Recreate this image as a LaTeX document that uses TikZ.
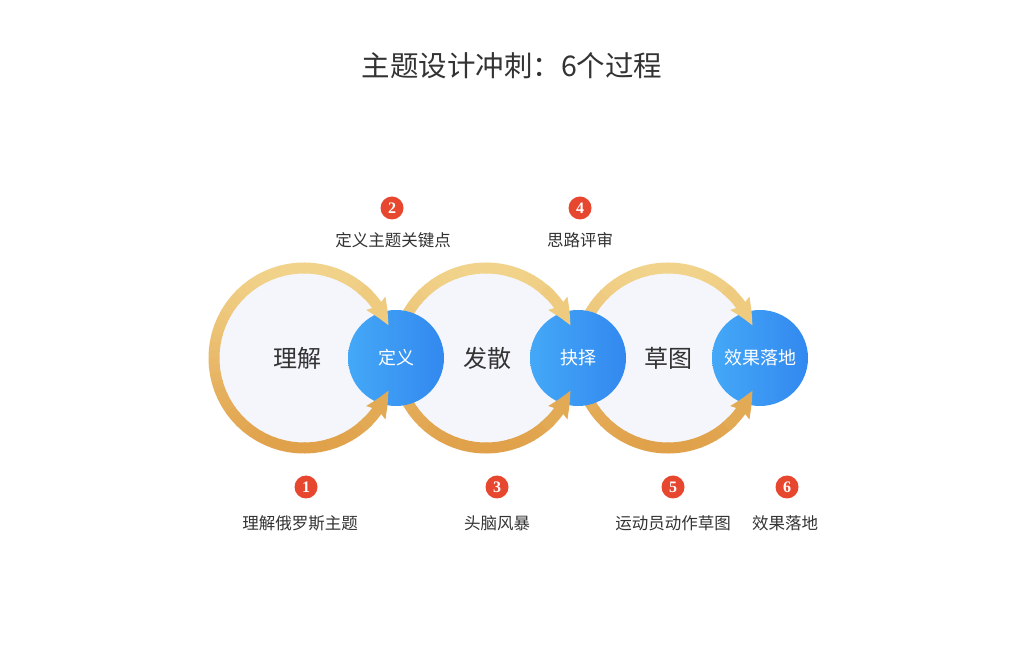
\documentclass[tikz,border=0pt]{standalone}
\usepackage{fontspec}
\setmainfont{Noto Sans CJK SC}
\newfontfamily\numfont{Liberation Serif}
\usetikzlibrary{arrows.meta,bending}
\definecolor{ringtop}{HTML}{F2D48C}
\definecolor{ringbot}{HTML}{E0A14A}
\definecolor{innerfill}{HTML}{F4F6FB}
\definecolor{bluel}{HTML}{44A8F7}
\definecolor{bluer}{HTML}{3288EF}
\definecolor{badgered}{HTML}{E8472F}
\definecolor{txt}{HTML}{333333}
\tikzset{
  bigring/.style={circle, fill=innerfill, minimum size=170pt, inner sep=0pt},
  bigtext/.style={text=txt, font=\fontsize{24}{24}\selectfont, inner sep=0pt},
  bluecirc/.style={circle, minimum size=96pt, inner sep=0pt, left color=bluel, right color=bluer, text=white, font=\fontsize{18}{18}\selectfont},
  badge/.style={circle, fill=badgered, minimum size=23pt, inner sep=0pt, text=white, font=\numfont\bfseries\fontsize{16}{16}\selectfont},
  steplabel/.style={text=txt, font=\fontsize{16.5}{17}\selectfont, inner sep=0pt},
  ringline/.style={line width=11pt, line cap=butt},
  ringtip/.style={-{Stealth[length=25pt,width=22pt,inset=3pt,bend]}},
}
\begin{document}
\begin{tikzpicture}[x=1pt,y=1pt]
\useasboundingbox[fill=white] (0,0) rectangle (1024,645);

% title
\node[text=txt, font=\fontsize{28.5}{28.5}\selectfont, inner sep=0pt] (title) at (512,579) {主题设计冲刺：6个过程};

% big ring interiors
\node[bigring] (r1) at (304,287) {};
\node[bigring] (r2) at (486,287) {};
\node[bigring] (r3) at (668,287) {};

% ring bodies (vertical gradient by segments)
\foreach \r in {r1,r2,r3} {
  \foreach \a in {180,175,...,50} {
    \pgfmathtruncatemacro\p{50+50*sin(\a-2.5)}
    \pgfmathsetmacro\b{\a-5.6}
    \draw[ringline, ringtop!\p!ringbot] (\r.center) ++(\a:90) arc[start angle=\a, end angle=\b, radius=90];
  }
  \foreach \a in {180,185,...,310} {
    \pgfmathtruncatemacro\p{50+50*sin(\a+2.5)}
    \pgfmathsetmacro\b{\a+5.6}
    \draw[ringline, ringtop!\p!ringbot] (\r.center) ++(\a:90) arc[start angle=\a, end angle=\b, radius=90];
  }
}

% blue circles
\node[bluecirc] (b1) at (396,287) {定义};
\node[bluecirc] (b2) at (578,287) {抉择};
\node[bluecirc] (b3) at (760,287) {效果落地};

% arrow ends on top of blue circles
\foreach \r in {r1,r2,r3} {
  \draw[ringline, ringtop!82!ringbot, ringtip] (\r.center) ++(50:90) arc[start angle=50, end angle=21, radius=90];
  \draw[ringline, ringtop!18!ringbot, ringtip] (\r.center) ++(310:90) arc[start angle=310, end angle=339, radius=90];
}

% ring texts
\node[bigtext] (t1) at (297,287) {理解};
\node[bigtext] (t2) at (487,287) {发散};
\node[bigtext] (t3) at (668,287) {草图};

% badges and labels
\node[badge] (n1) at (306,158) {1};
\node[steplabel] (l1) at (300,122) {理解俄罗斯主题};
\node[badge] (n2) at (392,437) {2};
\node[steplabel] (l2) at (393,405) {定义主题关键点};
\node[badge] (n3) at (497,158) {3};
\node[steplabel] (l3) at (497,122) {头脑风暴};
\node[badge] (n4) at (580,437) {4};
\node[steplabel] (l4) at (580,405) {思路评审};
\node[badge] (n5) at (673,158) {5};
\node[steplabel] (l5) at (673,122) {运动员动作草图};
\node[badge] (n6) at (787,158) {6};
\node[steplabel] (l6) at (785,122) {效果落地};
\end{tikzpicture}
\end{document}
